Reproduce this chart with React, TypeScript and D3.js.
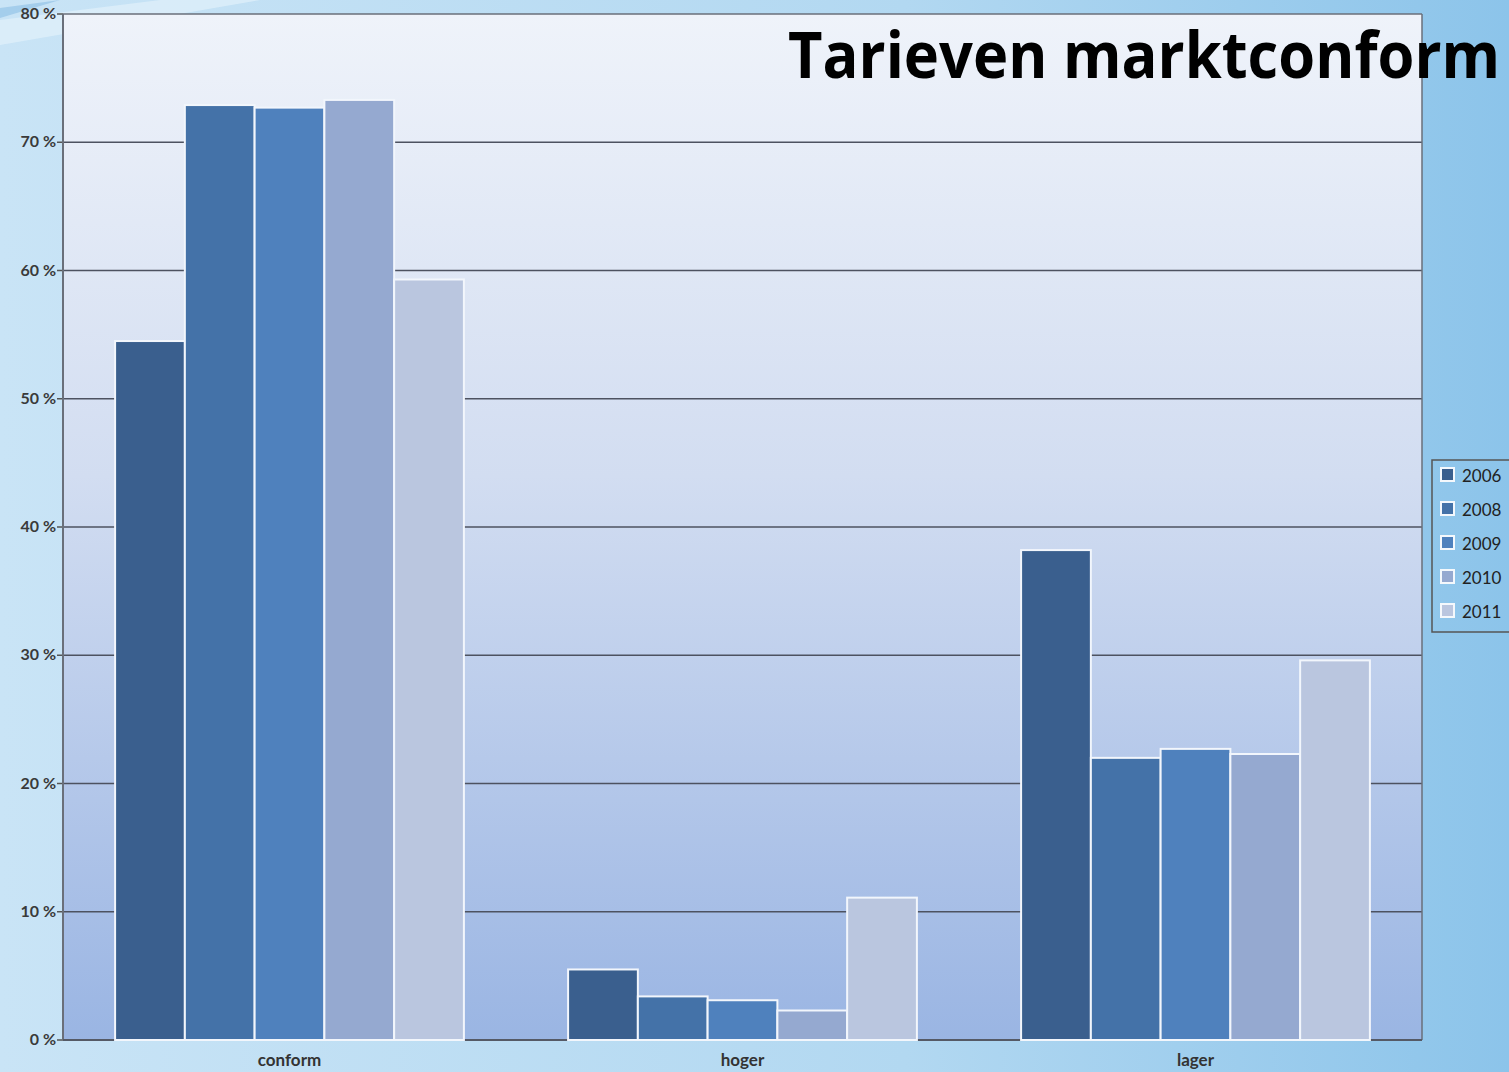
import React, { useLayoutEffect, useRef, useState } from "react";
import * as d3 from "d3";

const categories = ["conform", "hoger", "lager"];
const years = ["2006", "2008", "2009", "2010", "2011"];
const values2006 = [54.5, 5.5, 38.2];
const values2008 = [72.9, 3.4, 22.0];
const values2009 = [72.7, 3.1, 22.7];
const values2010 = [73.3, 2.3, 22.3];
const values2011 = [59.3, 11.1, 29.6];
const yTicks = [0, 10, 20, 30, 40, 50, 60, 70, 80];
const colors = ["#3a5f8e", "#4472a8", "#4f81bd", "#95a9d0", "#bac6df"];
const title = "Tarieven marktconform";

const series = [values2006, values2008, values2009, values2010, values2011];

export default function App() {
  const W = 1509, H = 1072;
  const left = 63, right = 1422, top = 14, bottom = 1040;
  const x0 = d3.scaleBand().domain(categories).range([left, right]).paddingInner(0.23).paddingOuter(0.115);
  const x1 = d3.scaleBand().domain(years).range([0, x0.bandwidth()]);
  const y = d3.scaleLinear().domain([0, 80]).range([bottom, top]);

  const titleRef = useRef<SVGTextElement>(null);
  const [sx, setSx] = useState(0.88);
  useLayoutEffect(() => {
    if (titleRef.current) {
      const w = titleRef.current.getComputedTextLength();
      if (w > 0) setSx(712 / w);
    }
  }, []);

  return (
    <svg width={W} height={H} style={{ position: "absolute", left: 0, top: 0, display: "block" }}
      fontFamily="Lato, 'Open Sans', sans-serif">
      <defs>
        <linearGradient id="page" x1="0" y1="0" x2="1" y2="0">
          <stop offset="0" stopColor="#c9e4f6" />
          <stop offset="0.6" stopColor="#b2d8f1" />
          <stop offset="1" stopColor="#8cc4ea" />
        </linearGradient>
        <linearGradient id="plot" x1="0" y1="0" x2="0" y2="1">
          <stop offset="0" stopColor="#eff3fa" />
          <stop offset="0.45" stopColor="#d2ddf1" />
          <stop offset="1" stopColor="#9ab5e3" />
        </linearGradient>
      </defs>
      <rect x={0} y={0} width={W} height={H} fill="url(#page)" />
      <path d="M0,20 L160,0 L260,0 L0,45 Z" fill="#e6f3fb" opacity={0.6} />
      <path d="M0,8 L60,0 L0,18 Z" fill="#7fb8e2" opacity={0.5} />
      <rect x={left} y={top} width={right - left} height={bottom - top} fill="url(#plot)" />
      {yTicks.map((t) => (
        <g key={t}>
          {t > 0 && t < 80 && (
            <line x1={left} x2={right} y1={y(t)} y2={y(t)} stroke="#4d5260" strokeWidth={1.6} />
          )}
          <line x1={left - 6} x2={left} y1={y(t)} y2={y(t)} stroke="#555" strokeWidth={1.5} />
          <text x={left - 7} y={y(t) + 5} textAnchor="end" fontSize={16} fontWeight="bold" fill="#3a3a3a">
            {t} %
          </text>
        </g>
      ))}
      <line x1={left} x2={right} y1={top} y2={top} stroke="#6a6f7a" strokeWidth={1.5} />
      <line x1={right} x2={right} y1={top} y2={bottom} stroke="#6a6f7a" strokeWidth={1.5} />
      <line x1={left} x2={left} y1={top} y2={bottom} stroke="#6a6f7a" strokeWidth={2} />
      <line x1={left} x2={right} y1={bottom} y2={bottom} stroke="#555a66" strokeWidth={2} />
      {categories.map((c, ci) => (
        <g key={c} transform={`translate(${x0(c)},0)`}>
          {years.map((yr, si) => (
            <rect key={yr} x={x1(yr)} y={y(series[si][ci])} width={x1.bandwidth()}
              height={bottom - y(series[si][ci])} fill={colors[si]} stroke="#f2f6fc" strokeWidth={2} />
          ))}
        </g>
      ))}
      {categories.map((c) => (
        <text key={c} x={(x0(c) as number) + x0.bandwidth() / 2} y={1066} textAnchor="middle"
          fontSize={17} fontWeight="bold" fill="#333">{c}</text>
      ))}
      <rect x={1432} y={460} width={90} height={172} fill="none" stroke="#555" strokeWidth={1.5} />
      {years.map((yr, i) => (
        <g key={yr} transform={`translate(1441,${468 + i * 34})`}>
          <rect x={0} y={0} width={13} height={13} fill={colors[i]} stroke="#f4f8fc" strokeWidth={2} />
          <text x={21} y={14} fontSize={17} fill="#222">{yr}</text>
        </g>
      ))}
      <text ref={titleRef} transform={`translate(788,78) scale(${sx},1)`} x={0} y={0} fontSize={64}
        fontWeight="bold" fill="#000" fontFamily="'Open Sans', Lato, sans-serif">{title}</text>
    </svg>
  );
}
